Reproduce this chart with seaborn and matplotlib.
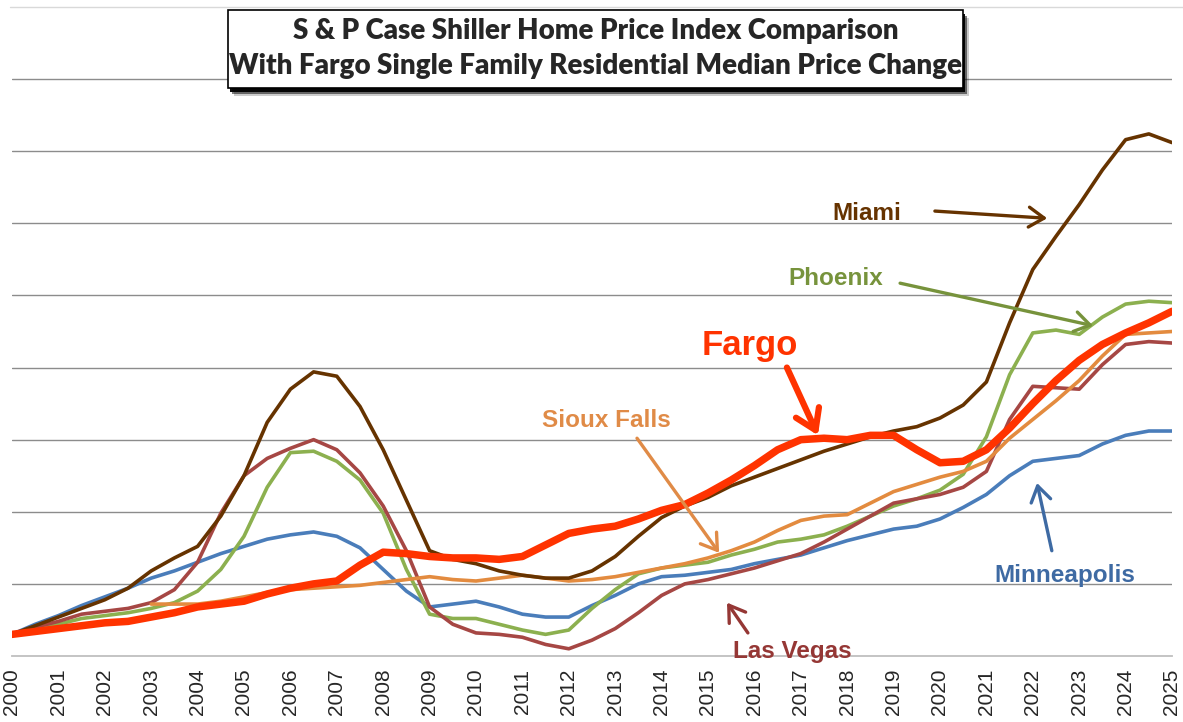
import numpy as np
import pandas as pd
import matplotlib.pyplot as plt
from matplotlib.patches import Rectangle
from matplotlib.lines import Line2D
import seaborn as sns

# 1. Data (index values, every half year 2000-2025)

years = [2000 + 0.5 * i for i in range(51)]

miami = [100, 106, 112, 118, 124, 132, 144, 153, 161, 182, 210, 247, 270, 282, 279, 258, 228,
         193, 158, 152, 149, 144, 141, 139, 139, 144, 154, 168, 181, 189, 195, 203, 209, 215,
         221, 227, 232, 237, 241, 244, 250, 259, 275, 316, 353, 376, 398, 422, 443, 447, 441]

las_vegas = [100, 105, 109, 114, 116, 118, 122, 131, 150, 184, 210, 222, 229, 235, 228, 212, 189,
             158, 119, 107, 101, 100, 98, 93, 90, 96, 104, 115, 127, 135, 138, 142, 146, 151,
             156, 164, 173, 182, 191, 194, 197, 202, 213, 249, 272, 271, 270, 287, 301, 303, 302]

phoenix = [100, 104, 107, 111, 113, 115, 118, 122, 130, 145, 168, 202, 226, 227, 220, 207, 184,
           145, 114, 111, 111, 107, 103, 100, 103, 118, 131, 142, 146, 148, 150, 155, 159, 164,
           166, 169, 175, 182, 189, 194, 200, 211, 237, 280, 309, 311, 308, 320, 329, 331, 330]

minneapolis = [100, 107, 113, 120, 126, 132, 139, 144, 150, 156, 161, 166, 169, 171, 168, 160, 145,
               130, 119, 121, 123, 119, 114, 112, 112, 120, 127, 135, 140, 141, 143, 145, 149, 152,
               155, 160, 165, 169, 173, 175, 180, 188, 197, 210, 220, 222, 224, 232, 238, 241, 241]

# Sioux Falls series begins in 2003
sioux_falls = [None] * 6 + [121, 121, 121, 123, 126, 129, 131, 132, 133, 134, 136, 138, 140, 138,
                            137, 139, 141, 139, 137, 138, 140, 143, 146, 149, 153, 158, 164, 172,
                            179, 182, 183, 191, 199, 204, 209, 213, 220, 236, 249, 262, 276, 293,
                            308, 309, 310]

fargo = [100, 102, 104, 106, 108, 109, 112, 115, 119, 121, 123, 128, 132, 135, 137, 148, 157,
         156, 154, 153, 153, 152, 154, 162, 170, 173, 175, 180, 186, 190, 198, 207, 217, 228,
         235, 236, 235, 238, 238, 228, 219, 220, 228, 243, 260, 276, 290, 301, 309, 316, 324]

year_labels = list(range(2000, 2026))

df = pd.DataFrame({'Year': years, 'Miami': miami, 'Las Vegas': las_vegas,
                   'Phoenix': phoenix, 'Minneapolis': minneapolis,
                   'Sioux Falls': sioux_falls, 'Fargo': fargo}).astype(float)

# 2. Styling

sns.set_style('white')
plt.rcParams['font.family'] = ['Liberation Sans', 'DejaVu Sans']

line_colors = {'Minneapolis': '#4A7DBA', 'Phoenix': '#8CB04F', 'Las Vegas': '#A64744',
               'Sioux Falls': '#E38B3F', 'Miami': '#663300', 'Fargo': '#FF3300'}
line_widths = {'Minneapolis': 2.6, 'Phoenix': 2.6, 'Las Vegas': 2.6,
               'Sioux Falls': 2.6, 'Miami': 2.6, 'Fargo': 5.4}

W, H = 1183, 722
fig = plt.figure(figsize=(W / 100, H / 100), dpi=100)
ax = fig.add_axes([12 / W, (H - 656) / H, (1172 - 12) / W, (656 - 7) / H])

# 3. Lines

for city in ['Minneapolis', 'Phoenix', 'Las Vegas', 'Sioux Falls', 'Miami', 'Fargo']:
    sns.lineplot(data=df, x='Year', y=city, ax=ax, color=line_colors[city],
                 linewidth=line_widths[city], solid_capstyle='round',
                 solid_joinstyle='round')

# 4. Axes

ax.set_xlim(2000, 2025)
ax.set_ylim(85, 535)
ax.set_yticks(np.arange(135, 486, 50))
ax.yaxis.grid(True, color='#8C8C8C', linewidth=1.0)
ax.set_axisbelow(True)
ax.set_yticklabels([])
ax.set_xticks(year_labels)
ax.set_xticklabels([str(y) for y in year_labels], rotation=90, fontsize=15)
ax.tick_params(axis='x', length=0, pad=9)
ax.tick_params(axis='y', length=0)
ax.set_xlabel('')
ax.set_ylabel('')
for side in ['top', 'left', 'right']:
    ax.spines[side].set_visible(False)
ax.spines['bottom'].set_color('#BFBFBF')
ax.spines['bottom'].set_linewidth(1.3)

# top border of chart area
fig.add_artist(Line2D([10 / W, 1.0], [(H - 7) / H, (H - 7) / H],
                      color='#D9D9D9', linewidth=1.0))

# 5. City labels with arrows

def label(text, xy_text, xy_arrow, color, size=17.5, lw=2.4, head=0.55):
    ax.annotate('', xy=xy_arrow[1], xytext=xy_arrow[0], textcoords='data',
                arrowprops=dict(arrowstyle=f'->, head_length={head}, head_width={head * 0.65}',
                                color=color, lw=lw, shrinkA=0, shrinkB=0,
                                mutation_scale=20))
    ax.text(xy_text[0], xy_text[1], text, color=color, fontsize=size,
            fontweight='bold', ha='center', va='center')

label('Miami', (2018.43, 392), ((2019.89, 393.5), (2022.31, 388.5)), '#663300')
label('Phoenix', (2017.76, 347), ((2019.14, 343.5), (2023.30, 314)), '#77933C')
label('Fargo', (2015.91, 300), ((2016.70, 285), (2017.37, 238)), '#FF3300',
      size=25, lw=4.5, head=0.7)
label('Sioux Falls', (2012.82, 248), ((2013.47, 236), (2015.24, 156.5)), '#E08B47')
label('Minneapolis', (2022.69, 140.5), ((2022.41, 158), (2022.09, 205)), '#3E6AA3')
label('Las Vegas', (2016.81, 88), ((2015.86, 101), (2015.41, 122)), '#953735')

# 6. Title box with drop shadow

bx0, by0, bx1, by1 = 228, 10, 963, 88
for dx, dy, a in [(6, 8, 0.2), (4, 6, 0.5), (2, 4, 0.95)]:
    fig.add_artist(Rectangle(((bx0 + dx) / W, (H - by1 - dy) / H), (bx1 - bx0) / W,
                             (by1 - by0) / H, facecolor='black', alpha=a,
                             edgecolor='none'))
fig.add_artist(Rectangle((bx0 / W, (H - by1) / H), (bx1 - bx0) / W, (by1 - by0) / H,
                         facecolor='white', edgecolor='black', linewidth=1.2))
title_font = ['Lato', 'DejaVu Sans']
fig.text((bx0 + bx1) / 2 / W, (H - 31) / H, 'S & P Case Shiller Home Price Index Comparison',
         ha='center', va='center', fontsize=20, fontweight='heavy', family=title_font)
fig.text((bx0 + bx1) / 2 / W, (H - 66) / H,
         'With Fargo Single Family Residential Median Price Change',
         ha='center', va='center', fontsize=20, fontweight='heavy', family=title_font)

fig.savefig('out.png', dpi=100, facecolor='white')
